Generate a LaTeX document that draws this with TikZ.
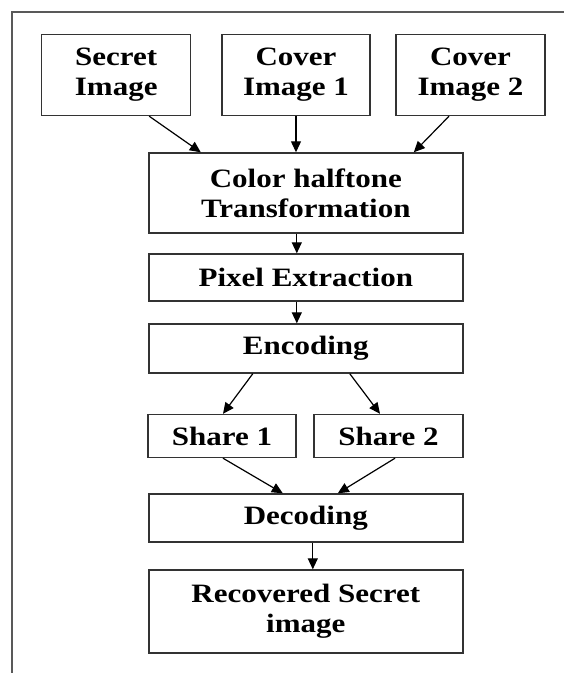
\documentclass[tikz,border=0pt]{standalone}
\usepackage{fontspec}
\setmainfont{Liberation Serif}[FakeStretch=1.17]
\usetikzlibrary{arrows.meta}
\usetikzlibrary{math}
\usetikzlibrary{positioning}

\tikzset{
    box/.style={draw=black!80,line width=1.4pt,rectangle,align=center,inner sep=0pt,
        font=\fontsize{26.5}{30}\selectfont\bfseries},
    arr/.style={line width=1.2pt,-{Triangle[length=11pt,width=10pt]}},
}

\begin{document}
\begin{tikzpicture}[x=1pt,y=-1pt]
    \tikzmath{  \xl = 116.2 ;
                \xm = 296 ;
                \xr = 470.5 ;
                \xc = 305.8 ;
                \xa = 222 ;
                \xb = 388.5 ;
                \ya = 75 ;
                \yb = 193 ;
                \yc = 277.5 ;
                \yd = 348.5 ;
                \ye = 436 ;
                \yf = 518 ;
                \yg = 611.5 ;
                }
    \useasboundingbox (0,0) rectangle (564,673);
    \draw[black!65,line width=1.5pt] (12,673) |- (564,12);

    \node[box,minimum width=149pt,minimum height=81pt] (secret) at (\xl,\ya) {Secret\\Image};
    \node[box,minimum width=148pt,minimum height=81pt] (cover1) at (\xm,\ya) {Cover\\Image 1};
    \node[box,minimum width=149pt,minimum height=81pt] (cover2) at (\xr,\ya) {Cover\\Image 2};
    \node[box,minimum width=314pt,minimum height=80pt] (halftone) at (\xc,\yb) {Color halftone\\Transformation};
    \node[box,minimum width=314pt,minimum height=47pt] (pixel) at (\xc,\yc) {Pixel Extraction};
    \node[box,minimum width=314pt,minimum height=49pt] (enc) at (\xc,\yd) {Encoding};
    \node[box,minimum width=148pt,minimum height=43pt] (share1) at (\xa,\ye) {Share 1};
    \node[box,minimum width=149pt,minimum height=43pt] (share2) at (\xb,\ye) {Share 2};
    \node[box,minimum width=314pt,minimum height=48pt] (dec) at (\xc,\yf) {Decoding};
    \node[box,minimum width=314pt,minimum height=83pt] (rec) at (\xc,\yg) {Recovered Secret\\image};

    \draw[arr] ([xshift=33pt]secret.south) -- ([xshift=-105pt]halftone.north);
    \draw[arr] (cover1.south) -- (cover1.south |- halftone.north);
    \draw[arr] ([xshift=-21.5pt]cover2.south) -- ([xshift=108pt]halftone.north);
    \draw[arr] ([xshift=-9pt]halftone.south) -- ([xshift=-9pt]pixel.north);
    \draw[arr] ([xshift=-9pt]pixel.south) -- ([xshift=-9pt]enc.north);
    \draw[arr] ([xshift=-53pt]enc.south) -- ([xshift=1pt]share1.north);
    \draw[arr] ([xshift=44pt]enc.south) -- ([xshift=-8.5pt]share2.north);
    \draw[arr] ([xshift=1pt]share1.south) -- ([xshift=-23pt]dec.north);
    \draw[arr] ([xshift=6.5pt]share2.south) -- ([xshift=32pt]dec.north);
    \draw[arr] ([xshift=7pt]dec.south) -- ([xshift=7pt]rec.north);
\end{tikzpicture}
\end{document}
